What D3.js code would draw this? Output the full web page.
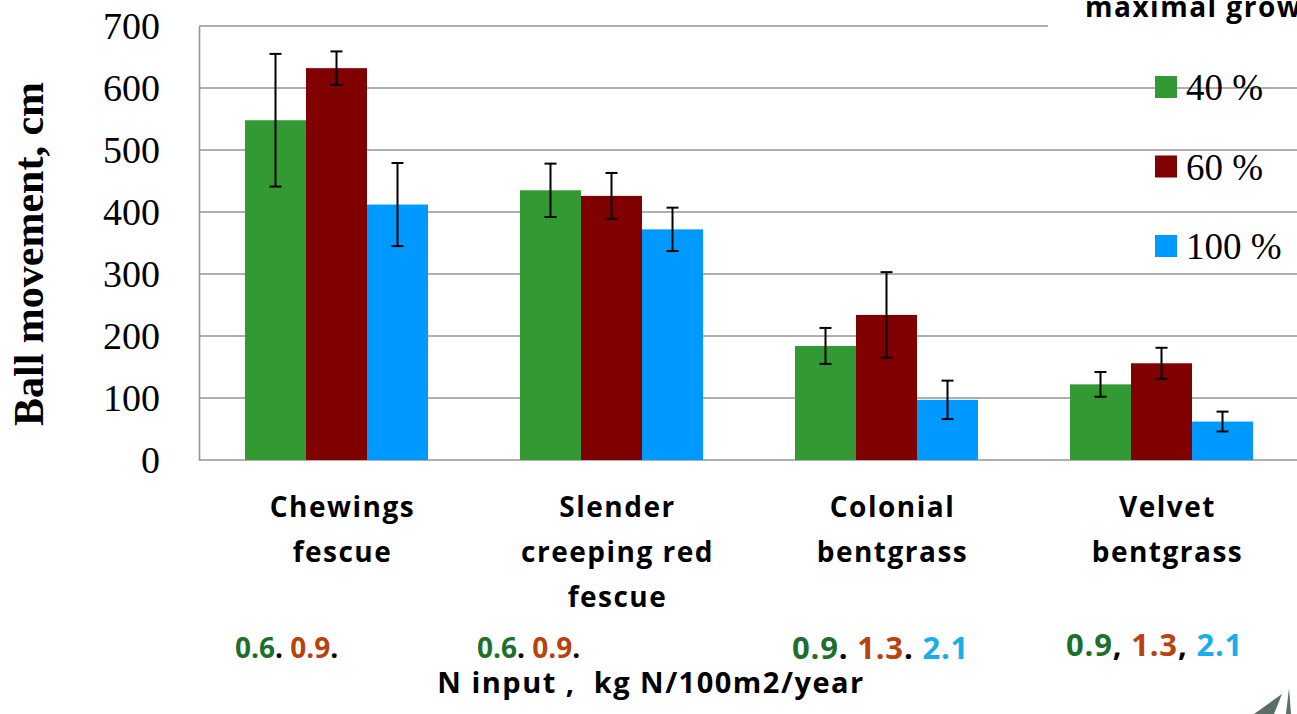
<!DOCTYPE html>
<html>
<head>
<meta charset="utf-8">
<script src="https://cdn.jsdelivr.net/npm/d3@7"></script>
<style>
  body { margin: 0; background: #fff; overflow: hidden; }
  svg { display: block; }
  .grid line { stroke: #959595; stroke-width: 1.6; }
  .sans { font-family: "Open Sans", Lato, sans-serif; font-weight: 700; letter-spacing: 1.5px; }
  .serif { font-family: "Liberation Serif", "DejaVu Serif", serif; }
</style>
</head>
<body>
<div id="chart"></div>
<script>
// grass species (category axis)
var categories = [
  ["Chewings", "fescue"],
  ["Slender", "creeping red", "fescue"],
  ["Colonial", "bentgrass"],
  ["Velvet", "bentgrass"]
];
var seriesNames = ["40 %", "60 %", "100 %"];
var seriesColors = ["#339933", "#800000", "#0099ff"];

// ball movement, cm
var means40 = [548, 435, 184, 122];
var means60 = [632, 426, 234, 156];
var means100 = [412, 372, 97, 62];
// error bar half widths
var err40 = [107, 43, 29, 20];
var err60 = [27, 37, 69, 25];
var err100 = [67, 35, 31, 16];

var yTicks = [0, 100, 200, 300, 400, 500, 600, 700];

// N input row under each group: [text, colour index] (-1 = black)
var nInputs = [
  [["0.6", 0], [". ", -1], ["0.9", 1], [".", -1]],
  [["0.6", 0], [". ", -1], ["0.9", 1], [".", -1]],
  [["0.9", 0], [". ", -1], ["1.3", 1], [". ", -1], ["2.1", 2]],
  [["0.9", 0], [", ", -1], ["1.3", 1], [", ", -1], ["2.1", 2]]
];
var nColors = ["#1d6f2c", "#b9420f", "#18aeee"];

var W = 1297, H = 714;
var plotLeft = 199, plotRight = 1299, plotTop = 26, plotBottom = 460;

var svg = d3.select("#chart").append("svg")
  .attr("width", W)
  .attr("height", H);

var x0 = d3.scaleBand()
  .domain(d3.range(categories.length))
  .range([plotLeft, plotRight])
  .padding(0);

var x1 = d3.scaleBand()
  .domain(d3.range(seriesNames.length))
  .range([0, x0.bandwidth()])
  .paddingInner(0)
  .paddingOuter(0.754);

var y = d3.scaleLinear()
  .domain([0, 700])
  .range([plotBottom, plotTop]);

// gridlines
svg.append("g")
  .attr("class", "grid")
  .selectAll("line")
  .data(yTicks)
  .enter().append("line")
  .attr("x1", plotLeft)
  .attr("x2", W)
  .attr("y1", function(d){ return y(d) })
  .attr("y2", function(d){ return y(d) });

// y axis
var yAxis = svg.append("g")
  .attr("transform", "translate(" + plotLeft + ",0)")
  .call(d3.axisLeft(y).tickValues(yTicks).tickSize(0).tickPadding(39));
yAxis.select(".domain").attr("stroke", "#959595").attr("stroke-width", 1.6);
yAxis.selectAll("text")
  .attr("class", "serif")
  .style("font-size", "38px")
  .attr("fill", "#000");

// y axis title
svg.append("text")
  .attr("class", "serif")
  .attr("transform", "translate(43," + 254 + ") rotate(-90)")
  .attr("text-anchor", "middle")
  .style("font-size", "42px")
  .style("font-weight", "bold")
  .text("Ball movement, cm");

// bars
var seriesData = [
  {means: means40, errs: err40},
  {means: means60, errs: err60},
  {means: means100, errs: err100}
];

seriesData.forEach(function(s, si){
  var g = svg.append("g");
  g.selectAll("rect")
    .data(s.means)
    .enter().append("rect")
    .attr("x", function(d, i){ return x0(i) + x1(si) })
    .attr("y", function(d){ return y(d) })
    .attr("width", x1.bandwidth())
    .attr("height", function(d){ return y(0) - y(d) })
    .attr("fill", seriesColors[si]);

  var eb = g.selectAll(".err")
    .data(s.means)
    .enter().append("g")
    .attr("class", "err")
    .attr("stroke", "#000")
    .attr("stroke-width", 2);
  eb.append("line")
    .attr("x1", function(d, i){ return x0(i) + x1(si) + x1.bandwidth() / 2 })
    .attr("x2", function(d, i){ return x0(i) + x1(si) + x1.bandwidth() / 2 })
    .attr("y1", function(d, i){ return y(d + s.errs[i]) })
    .attr("y2", function(d, i){ return y(d - s.errs[i]) });
  [1, -1].forEach(function(sign){
    eb.append("line")
      .attr("x1", function(d, i){ return x0(i) + x1(si) + x1.bandwidth() / 2 - 6 })
      .attr("x2", function(d, i){ return x0(i) + x1(si) + x1.bandwidth() / 2 + 6 })
      .attr("y1", function(d, i){ return y(d + sign * s.errs[i]) })
      .attr("y2", function(d, i){ return y(d + sign * s.errs[i]) });
  });
});

// category labels
var catText = svg.append("g").selectAll("text")
  .data(categories)
  .enter().append("text")
  .attr("class", "sans")
  .attr("text-anchor", "middle")
  .style("font-size", "28px")
  .attr("fill", "#000");
catText.each(function(lines, i){
  var t = d3.select(this);
  var cx = x0(i) + x0.bandwidth() / 2 + 6;
  lines.forEach(function(line, li){
    t.append("tspan")
      .attr("x", cx)
      .attr("y", 517 + li * 45)
      .text(line);
  });
});

// N input values
var nBase = [658, 658, 659, 656];
var nStart = [235, 477, 792, 1066];
var nSize = [28, 28, 31, 31];
nInputs.forEach(function(parts, i){
  var t = svg.append("text")
    .attr("class", "sans")
    .attr("x", nStart[i])
    .attr("y", nBase[i])
    .style("font-size", nSize[i] + "px")
    .style("letter-spacing", i < 2 ? "0px" : "0.8px")
    .attr("xml:space", "preserve");
  parts.forEach(function(p){
    t.append("tspan")
      .attr("fill", p[1] < 0 ? "#000" : nColors[p[1]])
      .text(p[0]);
  });
});

svg.append("text")
  .attr("class", "sans")
  .attr("x", 651)
  .attr("y", 693)
  .attr("text-anchor", "middle")
  .attr("xml:space", "preserve")
  .style("font-size", "29px")
  .text("N input ,  kg N/100m2/year");

// legend title box (covers top gridline)
svg.append("rect")
  .attr("x", 1048)
  .attr("y", 0)
  .attr("width", W - 1048)
  .attr("height", 40)
  .attr("fill", "#fff");
svg.append("text")
  .attr("class", "sans")
  .attr("x", 1085)
  .attr("y", 17)
  .style("font-size", "28px")
  .text("maximal growth");

// legend
var legend = svg.append("g").selectAll("g")
  .data(seriesNames)
  .enter().append("g")
  .attr("transform", function(d, i){ return "translate(1155," + (87 + i * 79.5) + ")" });
legend.append("rect")
  .attr("x", 0)
  .attr("y", -11)
  .attr("width", 22)
  .attr("height", 22)
  .attr("fill", function(d, i){ return seriesColors[i] });
legend.append("text")
  .attr("class", "serif")
  .attr("x", 31)
  .attr("y", 13)
  .style("font-size", "37px")
  .text(function(d){ return d });

// corner fragment of a picture bottom right
svg.append("path")
  .attr("d", "M1254,714 L1282,694 L1274,714 Z M1286,714 L1289,688 L1291,714 Z")
  .attr("fill", "#2f4a3e")
  .attr("opacity", 0.8);
</script>
</body>
</html>
